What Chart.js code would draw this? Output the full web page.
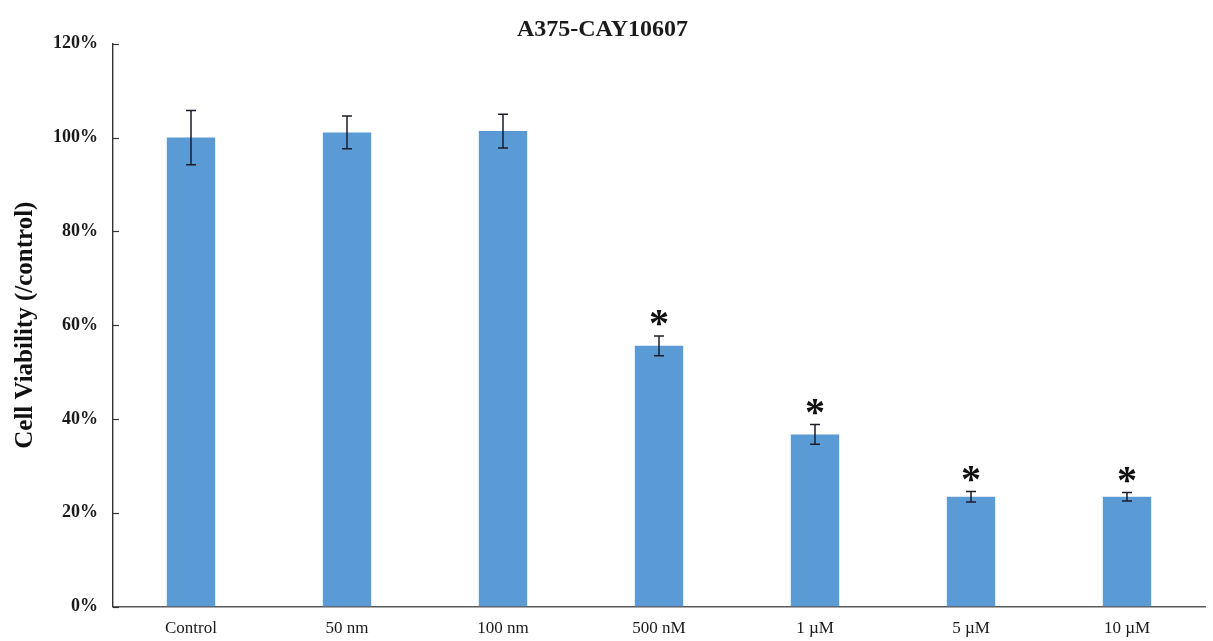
<!DOCTYPE html>
<html>
<head>
<meta charset="utf-8">
<script src="https://cdn.jsdelivr.net/npm/chart.js@4/dist/chart.umd.min.js"></script>
<style>
  html, body { margin: 0; padding: 0; background: #ffffff; }
  #wrap { width: 1213px; height: 641px; }
</style>
</head>
<body>
<div id="wrap"><canvas id="c" width="1213" height="641"></canvas></div>
<script>
// Treatment groups and measured viability (fraction of control, %)
const categories = ['Control', '50 nm', '100 nm', '500 nM', '1 \u00b5M', '5 \u00b5M', '10 \u00b5M'];
const viability  = [100, 101.1, 101.4, 55.6, 36.7, 23.4, 23.4];
const errors     = [5.8, 3.5, 3.6, 2.1, 2.1, 1.1, 0.9];
const significant = [false, false, false, true, true, true, true];
const yTicks = [0, 20, 40, 60, 80, 100, 120];

const serif = '"Liberation Serif", "Times New Roman", serif';

// Error bars, significance stars and inward y ticks
const annotations = {
  id: 'annotations',
  afterDatasetsDraw(chart) {
    const ctx = chart.ctx;
    const x = chart.scales.x, y = chart.scales.y;
    const meta = chart.getDatasetMeta(0);
    ctx.save();
    // inward tick marks on the value axis
    ctx.strokeStyle = '#333333';
    ctx.lineWidth = 1.2;
    yTicks.forEach(v => {
      const py = Math.round(y.getPixelForValue(v)) + 0.5;
      ctx.beginPath();
      ctx.moveTo(x.left, py);
      ctx.lineTo(x.left + 6, py);
      ctx.stroke();
    });
    // error bars
    ctx.strokeStyle = '#1c1c2a';
    ctx.lineWidth = 1.5;
    meta.data.forEach((bar, i) => {
      const cx = bar.x;
      const hi = y.getPixelForValue(viability[i] + errors[i]);
      const lo = y.getPixelForValue(viability[i] - errors[i]);
      ctx.beginPath();
      ctx.moveTo(cx, hi); ctx.lineTo(cx, lo);
      ctx.moveTo(cx - 5, hi); ctx.lineTo(cx + 5, hi);
      ctx.moveTo(cx - 5, lo); ctx.lineTo(cx + 5, lo);
      ctx.stroke();
      if (significant[i]) {
        ctx.fillStyle = '#111111';
        ctx.font = 'bold 40px ' + serif;
        const m = ctx.measureText('*');
        const glyphMid = (m.actualBoundingBoxAscent - m.actualBoundingBoxDescent) / 2;
        ctx.textAlign = 'center';
        ctx.textBaseline = 'alphabetic';
        ctx.fillText('*', cx, hi - 18 + glyphMid);
      }
    });
    ctx.restore();
  }
};

new Chart(document.getElementById('c'), {
  type: 'bar',
  data: {
    labels: categories,
    datasets: [{
      data: viability,
      backgroundColor: '#5b9bd5',
      borderWidth: 0,
      barPercentage: 1.0,
      categoryPercentage: 0.31
    }]
  },
  options: {
    responsive: false,
    animation: false,
    devicePixelRatio: 1,
    layout: { padding: { left: 0, right: 8, top: 0, bottom: 0 } },
    plugins: {
      legend: { display: false },
      tooltip: { enabled: false },
      title: {
        display: true,
        text: 'A375-CAY10607',
        color: '#1a1a1a',
        font: { family: serif, size: 24, weight: 'bold' },
        padding: { top: 15, bottom: 0 }
      }
    },
    scales: {
      x: {
        grid: { display: false, drawTicks: false },
        border: { display: true, color: '#5a5a5a', width: 1.6 },
        ticks: {
          color: '#1a1a1a',
          font: { family: serif, size: 17 },
          padding: 12,
          maxRotation: 0
        },
        afterFit(scale) { scale.height = 34.5; }
      },
      y: {
        min: 0,
        max: 120,
        afterBuildTicks(scale) { scale.ticks = yTicks.map(v => ({ value: v })); },
        grid: { display: false, drawTicks: false },
        border: { display: true, color: '#333333', width: 1.4 },
        ticks: {
          color: '#1a1a1a',
          font: { family: serif, size: 18, weight: 'bold' },
          padding: 15,
          callback: v => v + '%'
        },
        title: {
          display: true,
          text: 'Cell Viability (/control)',
          color: '#111111',
          font: { family: serif, size: 25, weight: 'bold' },
          padding: { top: 11, bottom: 0 }
        },
        afterFit(scale) { scale.width = 113; }
      }
    }
  },
  plugins: [annotations]
});
</script>
</body>
</html>
